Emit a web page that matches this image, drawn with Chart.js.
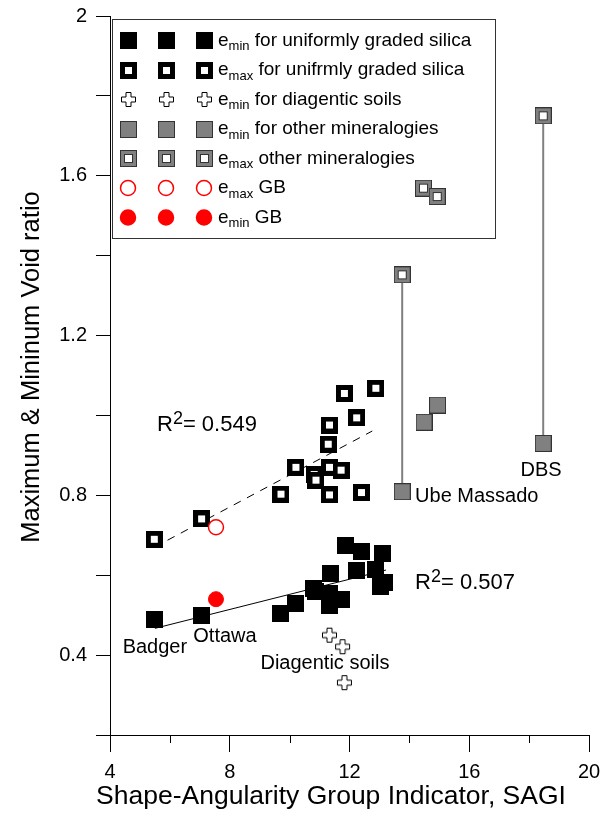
<!DOCTYPE html>
<html>
<head>
<meta charset="utf-8">
<script src="https://cdn.jsdelivr.net/npm/chart.js@4.4.0/dist/chart.umd.min.js"></script>
<style>
  html, body { margin: 0; padding: 0; background: #fff; }
  #wrap { width: 602px; height: 815px; position: relative; }
</style>
</head>
<body>
<div id="wrap"><canvas id="voidChart"></canvas></div>
<script>
// Void ratio limits against SAGI
const silicaMinX = [5.47, 7.07, 9.71, 10.18, 10.79, 10.85, 11.33, 11.35, 11.33, 11.74, 11.85, 12.41, 13.10, 12.24, 12.88, 13.18, 13.05];
const silicaMinY = [0.490, 0.500, 0.505, 0.530, 0.567, 0.558, 0.553, 0.604, 0.525, 0.538, 0.675, 0.659, 0.655, 0.613, 0.615, 0.581, 0.571];

const silicaMaxX = [5.48, 7.06, 9.71, 10.21, 10.82, 10.88, 11.33, 11.72, 11.33, 12.40, 11.29, 11.33, 12.24, 11.83, 12.88];
const silicaMaxY = [0.690, 0.741, 0.803, 0.870, 0.852, 0.838, 0.870, 0.863, 0.801, 0.807, 0.928, 0.976, 0.994, 1.055, 1.068];

const diagX = [11.33, 11.77, 11.83];
const diagY = [0.450, 0.421, 0.331];

const otherMinX = [13.76, 14.49, 14.94, 18.47];
const otherMinY = [0.809, 0.983, 1.026, 0.930];
const otherMaxX = [13.76, 14.47, 14.93, 18.47];
const otherMaxY = [1.352, 1.569, 1.548, 1.750];
// Ube Massado and DBS: emin and emax joined by a line
const linkedIdx = [0, 3];

const gbMaxX = [7.54];
const gbMaxY = [0.72];
const gbMinX = [7.54];
const gbMinY = [0.54];

// regression lines
const fitMinX = [5.50, 13.22];
const fitMinY = [0.467, 0.613];
const fitMaxX = [5.48, 12.76];
const fitMaxY = [0.670, 0.961];
const fitR2 = ['0.549', '0.507'];

const xTicks = [4, 8, 12, 16, 20];
const yTicks = [0.4, 0.8, 1.2, 1.6, 2];

const FONT = '"Liberation Sans", Arial, sans-serif';

function pts(xs, ys) {
    return xs.map((x, i) => ({ x: x, y: ys[i] }));
}

function marker(size, paint) {
    const c = document.createElement('canvas');
    c.width = size;
    c.height = size;
    paint(c.getContext('2d'), size);
    return c;
}

const mk = {
    black: marker(17, (g, s) => {
        g.fillStyle = '#000';
        g.fillRect(0, 0, s, s);
    }),
    blackHollow: marker(17, (g, s) => {
        g.fillStyle = '#000';
        g.fillRect(0, 0, s, s);
        g.fillStyle = '#fff';
        g.fillRect(5, 5, 7, 7);
    }),
    plus: marker(17, (g) => {
        const c = 8.5, a = 2.5, L = 7;
        g.beginPath();
        g.moveTo(c - a, c - L); g.lineTo(c + a, c - L); g.lineTo(c + a, c - a);
        g.lineTo(c + L, c - a); g.lineTo(c + L, c + a); g.lineTo(c + a, c + a);
        g.lineTo(c + a, c + L); g.lineTo(c - a, c + L); g.lineTo(c - a, c + a);
        g.lineTo(c - L, c + a); g.lineTo(c - L, c - a); g.lineTo(c - a, c - a);
        g.closePath();
        g.fillStyle = '#fff';
        g.fill();
        g.strokeStyle = '#000';
        g.lineWidth = 1;
        g.stroke();
    }),
    gray: marker(17, (g, s) => {
        g.fillStyle = '#808080';
        g.fillRect(0, 0, s, s);
        g.strokeStyle = '#333';
        g.lineWidth = 1;
        g.strokeRect(0.5, 0.5, s - 1, s - 1);
    }),
    grayHollow: marker(17, (g, s) => {
        g.fillStyle = '#808080';
        g.fillRect(0, 0, s, s);
        g.strokeStyle = '#333';
        g.lineWidth = 1;
        g.strokeRect(0.5, 0.5, s - 1, s - 1);
        g.fillStyle = '#fff';
        g.fillRect(4, 4, 9, 9);
        g.strokeRect(4.5, 4.5, 8, 8);
    })
};

const legendRows = [
    { icon: 'black', sub: 'min', rest: ' for uniformly graded silica' },
    { icon: 'blackHollow', sub: 'max', rest: ' for unifrmly graded silica' },
    { icon: 'plus', sub: 'min', rest: ' for diagentic soils' },
    { icon: 'gray', sub: 'min', rest: ' for other mineralogies' },
    { icon: 'grayHollow', sub: 'max', rest: ' other mineralogies' },
    { icon: 'redOpen', sub: 'max', rest: ' GB' },
    { icon: 'redFill', sub: 'min', rest: ' GB' }
];

const notes = [
    { text: 'Badger', x: 5.50, y: 0.418, align: 'center' },
    { text: 'Ottawa', x: 7.84, y: 0.446, align: 'center' },
    { text: 'Diagentic soils', x: 11.18, y: 0.380, align: 'center' },
    { text: 'Ube Massado', x: 14.19, y: 0.796, align: 'left' },
    { text: 'DBS', x: 18.40, y: 0.863, align: 'center' }
];
const r2Spots = [
    { x: 5.57, y: 0.976 },
    { x: 14.19, y: 0.580 }
];

function drawIcon(ctx, icon, x, y) {
    if (icon === 'redOpen' || icon === 'redFill') {
        ctx.beginPath();
        ctx.arc(x, y, 7.5, 0, Math.PI * 2);
        ctx.fillStyle = icon === 'redFill' ? '#ff0000' : '#fff';
        ctx.fill();
        ctx.strokeStyle = '#ff0000';
        ctx.lineWidth = 1.5;
        ctx.stroke();
        return;
    }
    const img = mk[icon];
    ctx.drawImage(img, Math.round(x - img.width / 2), Math.round(y - img.height / 2));
}

const overlay = {
    id: 'overlay',
    beforeDatasetsDraw(chart) {
        const ctx = chart.ctx;
        ctx.save();
        // legend frame
        ctx.fillStyle = '#fff';
        ctx.fillRect(112, 19, 383, 219);
        ctx.strokeStyle = '#333';
        ctx.lineWidth = 1;
        ctx.strokeRect(112.5, 19.5, 383, 219);

        ctx.textBaseline = 'middle';
        ctx.textAlign = 'left';
        legendRows.forEach((row, i) => {
            const y = 40.5 + i * 29.5;
            [128, 166, 204].forEach(x => drawIcon(ctx, row.icon, x, y));
            let tx = 218;
            ctx.fillStyle = '#000';
            ctx.font = '19px ' + FONT;
            ctx.fillText('e', tx, y);
            tx += ctx.measureText('e').width;
            ctx.font = '13px ' + FONT;
            ctx.fillText(row.sub, tx, y + 6);
            tx += ctx.measureText(row.sub).width;
            ctx.font = '19px ' + FONT;
            ctx.fillText(row.rest, tx, y);
        });
        ctx.restore();
    },
    afterDraw(chart) {
        const ctx = chart.ctx;
        const xs = chart.scales.x;
        const ys = chart.scales.y;
        ctx.save();

        // minor ticks on the x axis
        ctx.strokeStyle = '#000';
        ctx.lineWidth = 1;
        [6, 10, 14, 18].forEach(v => {
            const px = Math.round(xs.getPixelForValue(v)) + 0.5;
            ctx.beginPath();
            ctx.moveTo(px, ys.bottom);
            ctx.lineTo(px, ys.bottom + 8);
            ctx.stroke();
        });

        ctx.fillStyle = '#000';
        ctx.textBaseline = 'middle';
        ctx.font = '20px ' + FONT;
        notes.forEach(n => {
            ctx.textAlign = n.align;
            ctx.fillText(n.text, xs.getPixelForValue(n.x), ys.getPixelForValue(n.y));
        });

        ctx.textAlign = 'left';
        r2Spots.forEach((s, i) => {
            let tx = xs.getPixelForValue(s.x);
            const ty = ys.getPixelForValue(s.y);
            ctx.font = '22px ' + FONT;
            ctx.fillText('R', tx, ty);
            tx += ctx.measureText('R').width;
            ctx.font = '18px ' + FONT;
            ctx.fillText('2', tx, ty - 6);
            tx += ctx.measureText('2').width;
            ctx.font = '22px ' + FONT;
            ctx.fillText('= ' + fitR2[i], tx, ty);
        });

        // axis titles
        ctx.textAlign = 'center';
        ctx.font = '26.5px ' + FONT;
        ctx.fillText('Shape-Angularity Group Indicator, SAGI', 331, 797);
        ctx.translate(32, 367);
        ctx.rotate(-Math.PI / 2);
        ctx.font = '25.5px ' + FONT;
        ctx.fillText('Maximum & Mininum Void ratio', 0, 0);
        ctx.restore();
    }
};

const linkSets = linkedIdx.map(i => ({
    type: 'line',
    data: [{ x: otherMinX[i], y: otherMinY[i] }, { x: otherMaxX[i], y: otherMaxY[i] }],
    borderColor: '#808080',
    borderWidth: 2,
    pointRadius: 0,
    showLine: true,
    order: 10
}));

new Chart(document.getElementById('voidChart'), {
    type: 'scatter',
    data: {
        datasets: [
            ...linkSets,
            {
                type: 'line',
                data: pts(fitMinX, fitMinY),
                borderColor: '#000',
                borderWidth: 1,
                pointRadius: 0,
                showLine: true,
                order: 9
            },
            {
                type: 'line',
                data: pts(fitMaxX, fitMaxY),
                borderColor: '#000',
                borderWidth: 1,
                borderDash: [8, 7],
                pointRadius: 0,
                showLine: true,
                order: 9
            },
            { data: pts(silicaMinX, silicaMinY), pointStyle: mk.black, order: 2 },
            { data: pts(silicaMaxX, silicaMaxY), pointStyle: mk.blackHollow, order: 2 },
            { data: pts(diagX, diagY), pointStyle: mk.plus, order: 2 },
            { data: pts(otherMinX, otherMinY), pointStyle: mk.gray, order: 2 },
            { data: pts(otherMaxX, otherMaxY), pointStyle: mk.grayHollow, order: 2 },
            {
                data: pts(gbMaxX, gbMaxY),
                pointStyle: 'circle',
                pointRadius: 7.5,
                backgroundColor: '#fff',
                borderColor: '#ff0000',
                borderWidth: 1.5,
                order: 1
            },
            {
                data: pts(gbMinX, gbMinY),
                pointStyle: 'circle',
                pointRadius: 7.5,
                backgroundColor: '#ff0000',
                borderColor: '#ff0000',
                borderWidth: 1,
                order: 1
            }
        ]
    },
    options: {
        responsive: true,
        maintainAspectRatio: false,
        animation: false,
        devicePixelRatio: 1,
        events: [],
        layout: { padding: { top: 16, right: 13, left: 0, bottom: 0 } },
        plugins: {
            legend: { display: false },
            tooltip: { enabled: false }
        },
        scales: {
            x: {
                type: 'linear',
                min: 4,
                max: 20,
                afterFit: s => {
                    s.height = 80;
                    s.paddingLeft = 0;
                    s.paddingRight = 0;
                },
                afterBuildTicks: s => {
                    s.ticks = [4, 6, 8, 10, 12, 14, 16, 18, 20].map(v => ({ value: v }));
                },
                border: { display: true, color: '#000', width: 1 },
                grid: {
                    drawOnChartArea: false,
                    drawTicks: true,
                    tickLength: 17,
                    tickColor: c => (xTicks.includes(c.tick.value) ? '#000' : 'rgba(0,0,0,0)')
                },
                ticks: {
                    color: '#000',
                    padding: 8,
                    font: { family: FONT, size: 20 },
                    maxRotation: 0,
                    callback: v => (xTicks.includes(v) ? String(v) : '')
                }
            },
            y: {
                type: 'linear',
                min: 0.2,
                max: 2,
                afterFit: s => {
                    s.width = 110;
                    s.paddingTop = 0;
                    s.paddingBottom = 0;
                },
                afterBuildTicks: s => {
                    s.ticks = [0.2, 0.4, 0.6, 0.8, 1.0, 1.2, 1.4, 1.6, 1.8, 2].map(v => ({ value: v }));
                },
                border: { display: true, color: '#000', width: 1 },
                grid: {
                    drawOnChartArea: false,
                    drawTicks: true,
                    tickLength: 14,
                    tickColor: '#000'
                },
                ticks: {
                    color: '#000',
                    padding: 9,
                    font: { family: FONT, size: 20 },
                    callback: v => {
                        const r = Math.round(v * 10) / 10;
                        return yTicks.includes(r) ? String(r) : '';
                    }
                }
            }
        }
    },
    plugins: [overlay]
});
</script>
</body>
</html>
